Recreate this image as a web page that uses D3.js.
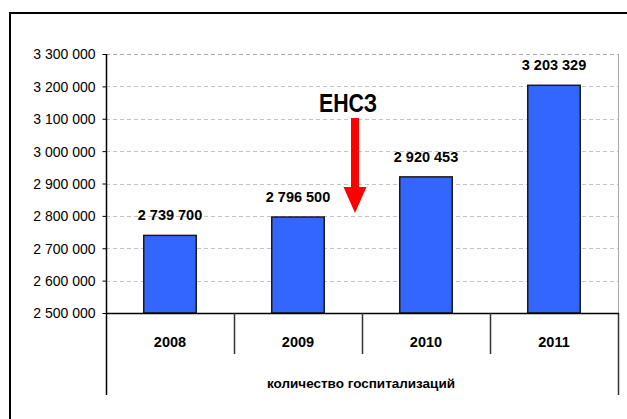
<!DOCTYPE html>
<html>
<head>
<meta charset="utf-8">
<script src="https://cdn.jsdelivr.net/npm/d3@7"></script>
<style>
  html, body { margin: 0; padding: 0; background: #fff; }
  svg { display: block; font-family: "Liberation Sans", Arial, sans-serif; }
</style>
</head>
<body>
<svg id="chart" width="627" height="419"></svg>
<script>
// Hospitalisations per year
const years = ["2008", "2009", "2010", "2011"];
const hospitalizations = [2739700, 2796500, 2920453, 3203329];
const yTicks = [2500000, 2600000, 2700000, 2800000, 2900000, 3000000, 3100000, 3200000, 3300000];
const axisTitle = "количество госпитализаций";
const markerLabel = "ЕНСЗ";

const svg = d3.select("#chart");
const plotLeft = 106, plotRight = 618, plotTop = 54, plotBottom = 313;

const ruFormat = d3.formatLocale({ thousands: " ", grouping: [3], decimal: ",", currency: ["", ""] }).format(",d");

const y = d3.scaleLinear().domain([2500000, 3300000]).range([plotBottom, plotTop]);
const x = d3.scaleBand().domain(years).range([plotLeft, plotRight]).paddingInner(0).paddingOuter(0);

// outer frame (runs off the right and bottom edges)
svg.append("rect")
  .attr("x", 10).attr("y", 13).attr("width", 700).attr("height", 500)
  .attr("fill", "none").attr("stroke", "#000").attr("stroke-width", 2);

// horizontal gridlines
svg.append("g").selectAll("line")
  .data(yTicks.slice(1))
  .join("line")
  .attr("x1", plotLeft).attr("x2", plotRight)
  .attr("y1", d => Math.round(y(d)) + 0.5).attr("y2", d => Math.round(y(d)) + 0.5)
  .attr("stroke", d => d === 3300000 ? "#a8a8a8" : "#c4c4c4")
  .attr("stroke-width", 1)
  .attr("stroke-dasharray", "4,3");

// plot-area right edge
svg.append("line")
  .attr("x1", plotRight + 0.5).attr("x2", plotRight + 0.5)
  .attr("y1", plotTop).attr("y2", plotBottom)
  .attr("stroke", "#a8a8a8");

// y axis
const yAxis = d3.axisLeft(y).tickValues(yTicks).tickFormat(ruFormat).tickSize(4).tickPadding(7);
const gy = svg.append("g").attr("transform", `translate(${plotLeft + 0.5},0)`).call(yAxis);
gy.select(".domain").remove();
gy.selectAll(".tick line").attr("stroke", "#000");
gy.selectAll(".tick text")
  .attr("font-size", 14).attr("fill", "#000")
  .attr("font-family", "'Liberation Sans', Arial, sans-serif")
  .attr("dy", "0.35em");

// bars
const barW = x.bandwidth() * 0.41;
svg.append("g").selectAll("rect")
  .data(hospitalizations)
  .join("rect")
  .attr("x", (d, i) => x(years[i]) + (x.bandwidth() - barW) / 2)
  .attr("y", d => y(d))
  .attr("width", barW)
  .attr("height", d => plotBottom - y(d))
  .attr("fill", "#3366ff")
  .attr("stroke", "#1a1a1a")
  .attr("stroke-width", 1.5);

// value labels
svg.append("g").selectAll("text")
  .data(hospitalizations)
  .join("text")
  .attr("x", (d, i) => x(years[i]) + x.bandwidth() / 2)
  .attr("y", d => y(d) - 15)
  .attr("text-anchor", "middle")
  .attr("font-size", 14.5).attr("font-weight", "bold")
  .text(d => ruFormat(d));

// left axis line, extended down through the category table
svg.append("line")
  .attr("x1", plotLeft + 0.5).attr("x2", plotLeft + 0.5)
  .attr("y1", plotTop).attr("y2", 395)
  .attr("stroke", "#000").attr("stroke-width", 1.5);
// right border of the category table
svg.append("line")
  .attr("x1", plotRight + 0.5).attr("x2", plotRight + 0.5)
  .attr("y1", plotBottom).attr("y2", 395)
  .attr("stroke", "#333").attr("stroke-width", 1.5);
// baseline
svg.append("line")
  .attr("x1", plotLeft).attr("x2", plotRight + 1)
  .attr("y1", plotBottom + 0.5).attr("y2", plotBottom + 0.5)
  .attr("stroke", "#000").attr("stroke-width", 1.5);

// category dividers
svg.append("g").selectAll("line")
  .data(years.slice(1))
  .join("line")
  .attr("x1", d => x(d) + 0.5).attr("x2", d => x(d) + 0.5)
  .attr("y1", plotBottom).attr("y2", 354)
  .attr("stroke", "#333").attr("stroke-width", 1.5);

// category labels
svg.append("g").selectAll("text")
  .data(years)
  .join("text")
  .attr("x", d => x(d) + x.bandwidth() / 2)
  .attr("y", 347)
  .attr("text-anchor", "middle")
  .attr("font-size", 14.5).attr("font-weight", "bold")
  .text(d => d);

// axis title
svg.append("text")
  .attr("x", 361).attr("y", 388)
  .attr("text-anchor", "middle")
  .attr("font-size", 13).attr("font-weight", "bold")
  .attr("textLength", 188).attr("lengthAdjust", "spacingAndGlyphs")
  .text(axisTitle);

// ЕНСЗ marker with downward red arrow
const ax = 355;
svg.append("text")
  .attr("x", 348).attr("y", 112)
  .attr("text-anchor", "middle")
  .attr("font-size", 26).attr("font-weight", "bold")
  .attr("textLength", 58).attr("lengthAdjust", "spacingAndGlyphs")
  .text(markerLabel);
svg.append("path")
  .attr("d", `M${ax - 4},118 L${ax + 4},118 L${ax + 4},187 L${ax + 11.5},187 L${ax},213 L${ax - 11.5},187 L${ax - 4},187 Z`)
  .attr("fill", "#ff0000");
</script>
</body>
</html>
